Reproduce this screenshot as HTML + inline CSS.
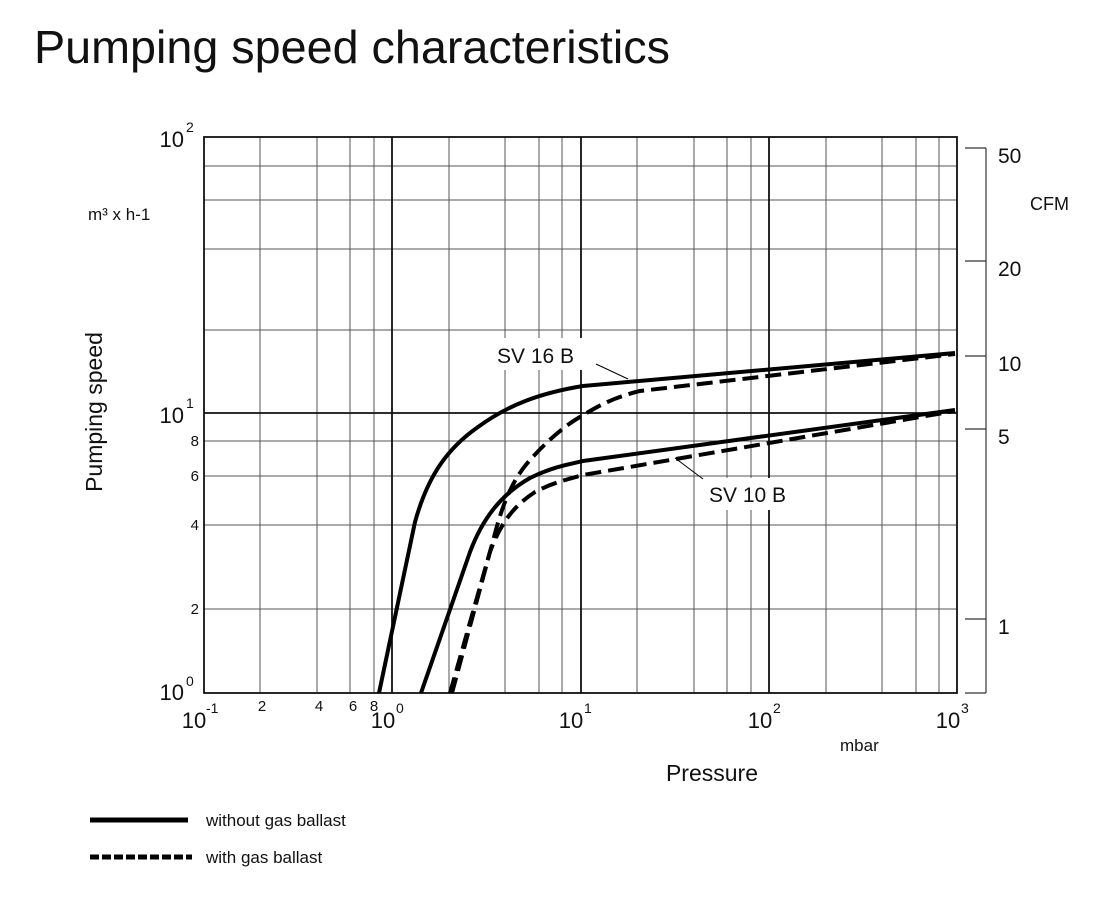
<!DOCTYPE html>
<html><head><style>
body{margin:0;background:#fff;}
svg text{font-family:"Liberation Sans",Arial,sans-serif;fill:#111;}
</style></head><body>
<svg width="1098" height="894" xmlns="http://www.w3.org/2000/svg">
<text x="34" y="63" font-size="46" fill="#222" textLength="636" lengthAdjust="spacingAndGlyphs">Pumping speed characteristics</text>
<g stroke="#555" stroke-width="1">
<line x1="260" y1="137" x2="260" y2="693"/><line x1="317" y1="137" x2="317" y2="693"/><line x1="350" y1="137" x2="350" y2="693"/><line x1="374" y1="137" x2="374" y2="693"/>
<line x1="449" y1="137" x2="449" y2="693"/><line x1="505" y1="137" x2="505" y2="693"/><line x1="539" y1="137" x2="539" y2="693"/><line x1="562" y1="137" x2="562" y2="693"/>
<line x1="637" y1="137" x2="637" y2="693"/><line x1="694" y1="137" x2="694" y2="693"/><line x1="727" y1="137" x2="727" y2="693"/><line x1="751" y1="137" x2="751" y2="693"/>
<line x1="826" y1="137" x2="826" y2="693"/><line x1="882" y1="137" x2="882" y2="693"/><line x1="916" y1="137" x2="916" y2="693"/><line x1="939" y1="137" x2="939" y2="693"/>
<line x1="204" y1="609" x2="957" y2="609"/><line x1="204" y1="525" x2="957" y2="525"/><line x1="204" y1="476" x2="957" y2="476"/><line x1="204" y1="441" x2="957" y2="441"/>
<line x1="204" y1="330" x2="957" y2="330"/><line x1="204" y1="249" x2="957" y2="249"/><line x1="204" y1="200" x2="957" y2="200"/><line x1="204" y1="166" x2="957" y2="166"/>
</g>
<g stroke="#111" stroke-width="1.8">
<line x1="392" y1="137" x2="392" y2="693"/><line x1="581" y1="137" x2="581" y2="693"/><line x1="769" y1="137" x2="769" y2="693"/>
<line x1="204" y1="413" x2="957" y2="413"/>
<rect x="204" y="137" width="753" height="556" fill="none"/>
</g>
<g stroke="#333" stroke-width="1.2">
<line x1="986" y1="148" x2="986" y2="693"/>
<line x1="965" y1="148" x2="986" y2="148"/><line x1="965" y1="261" x2="986" y2="261"/><line x1="965" y1="356" x2="986" y2="356"/><line x1="965" y1="429" x2="986" y2="429"/><line x1="965" y1="619" x2="986" y2="619"/><line x1="965" y1="693" x2="986" y2="693"/>
</g>
<g font-size="21">
<text x="998" y="163">50</text><text x="998" y="276">20</text><text x="998" y="371">10</text><text x="998" y="444">5</text><text x="998" y="634">1</text>
<text x="1030" y="210" font-size="18">CFM</text>
</g>
<g fill="none" stroke="#000" stroke-width="4">
<path d="M379,693 L415,522 C428,475 448,448 478,427 C508,405 540,393 583,386 L955,353"/>
<path d="M421,693 L470,552 C482,520 500,495 530,478 C550,468 565,465 583,461 L955,410"/>
<path stroke-dasharray="16,7" d="M450,693 L493,541 C502,505 512,480 530,460 C548,440 565,425 585,414 C600,405 615,397 640,391 L955,354"/>
<path stroke-dasharray="16,7" d="M452,693 L490,552 C500,525 512,507 535,492 C552,483 565,480 583,475 L955,411"/>
</g>
<rect x="494" y="338" width="97" height="32" fill="#fff"/>
<text x="497" y="363" font-size="21">SV 16 B</text>
<line x1="596" y1="364" x2="628" y2="379" stroke="#000" stroke-width="1"/>
<rect x="706" y="478" width="96" height="32" fill="#fff"/>
<text x="709" y="502" font-size="21">SV 10 B</text>
<line x1="703" y1="479" x2="675" y2="458" stroke="#000" stroke-width="1"/>
<g font-size="22" text-anchor="end">
<text x="184" y="147">10</text><text x="184" y="423">10</text><text x="184" y="700">10</text>
</g>
<g font-size="14"><text x="186" y="132">2</text><text x="186" y="408">1</text><text x="186" y="686">0</text></g>
<g font-size="15" text-anchor="end"><text x="199" y="446">8</text><text x="199" y="481">6</text><text x="199" y="530">4</text><text x="199" y="614">2</text></g>
<text x="88" y="220" font-size="17">m³ x h-1</text>
<text transform="translate(102,412) rotate(-90)" font-size="23" text-anchor="middle">Pumping speed</text>
<g font-size="22" text-anchor="middle">
<text x="194" y="728">10</text><text x="383" y="728">10</text><text x="571" y="728">10</text><text x="760" y="728">10</text><text x="948" y="728">10</text>
</g>
<g font-size="14"><text x="206" y="713">-1</text><text x="396" y="713">0</text><text x="584" y="713">1</text><text x="773" y="713">2</text><text x="961" y="713">3</text></g>
<g font-size="15" text-anchor="middle"><text x="262" y="711">2</text><text x="319" y="711">4</text><text x="353" y="711">6</text><text x="374" y="711">8</text></g>
<text x="840" y="751" font-size="17">mbar</text>
<text x="712" y="781" font-size="23" text-anchor="middle">Pressure</text>
<line x1="90" y1="820" x2="188" y2="820" stroke="#000" stroke-width="5"/>
<text x="206" y="826" font-size="17">without gas ballast</text>
<line x1="90" y1="857" x2="192" y2="857" stroke="#000" stroke-width="5" stroke-dasharray="9,3"/>
<text x="206" y="863" font-size="17">with gas ballast</text>
</svg>
</body></html>
